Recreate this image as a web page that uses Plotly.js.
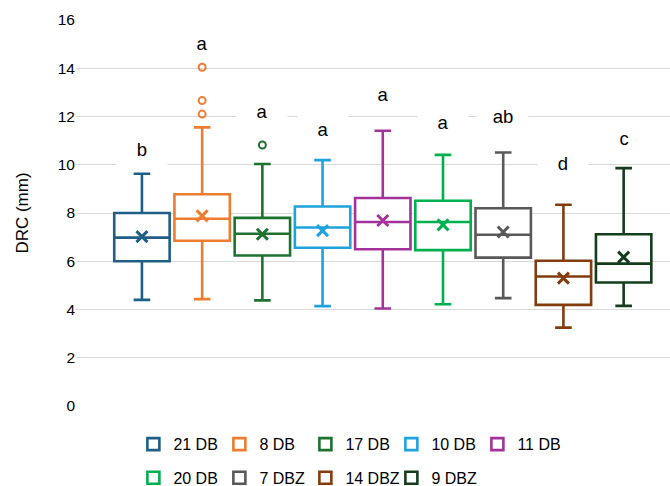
<!DOCTYPE html>
<html>
<head>
<meta charset="utf-8">
<script src="https://cdn.plot.ly/plotly-3.0.1.min.js"></script>
<style>html,body{margin:0;padding:0;background:#fff;}#chart{width:670px;height:486px;}</style>
</head>
<body>
<div id="chart"></div>
<script>
// Data
const groups = ["21 DB", "8 DB", "17 DB", "10 DB", "11 DB", "20 DB", "7 DBZ", "14 DBZ", "9 DBZ"];
const lowerWhisker = [4.40, 4.43, 4.38, 4.14, 4.04, 4.22, 4.47, 3.25, 4.15];
const q1Values     = [6.00, 6.85, 6.24, 6.56, 6.50, 6.46, 6.15, 4.19, 5.12];
const medianValues = [6.98, 7.76, 7.14, 7.40, 7.63, 7.63, 7.10, 5.37, 5.90];
const q3Values     = [8.00, 8.78, 7.80, 8.27, 8.62, 8.51, 8.20, 6.02, 7.12];
const upperWhisker = [9.63, 11.55, 10.03, 10.19, 11.41, 10.41, 10.51, 8.34, 9.86];
const meanValues   = [7.02, 7.88, 7.12, 7.27, 7.69, 7.51, 7.21, 5.30, 6.17];
const outliers     = [[], [14.04, 12.66, 12.10], [10.82], [], [], [], [], [], []];
const letters      = ["b", "a", "a", "a", "a", "a", "ab", "d", "c"];
const letterY      = [10.66, 15.06, 12.23, 11.50, 12.95, 11.78, 12.03, 10.08, 11.12];
const yTicks       = [0, 2, 4, 6, 8, 10, 12, 14, 16];

const colors = ["#1f5f86", "#ed7d31", "#1e7330", "#1ea3dc", "#a3339b", "#00b050", "#595959", "#843c0c", "#143d1c"];

const traces = [];
groups.forEach((g, i) => {
  traces.push({
    type: "box",
    name: g,
    x: [i],
    q1: [q1Values[i]],
    median: [medianValues[i]],
    q3: [q3Values[i]],
    lowerfence: [lowerWhisker[i]],
    upperfence: [upperWhisker[i]],
    width: 0.92,
    whiskerwidth: 0.3,
    line: {color: colors[i], width: 2.6},
    fillcolor: "#ffffff",
    boxpoints: false,
    hoverinfo: "skip",
    legend: i < 5 ? "legend" : "legend2"
  });
});
groups.forEach((g, i) => {
  traces.push({
    type: "scatter", mode: "markers", x: [i], y: [meanValues[i]],
    marker: {symbol: "x-thin", size: 11, line: {color: colors[i], width: 3}},
    showlegend: false, hoverinfo: "skip"
  });
  if (outliers[i].length) {
    traces.push({
      type: "scatter", mode: "markers",
      x: outliers[i].map(() => i), y: outliers[i],
      marker: {symbol: "circle-open", size: 7, color: colors[i], line: {color: colors[i], width: 2}},
      showlegend: false, hoverinfo: "skip"
    });
  }
});

const annotations = letters.map((t, i) => ({
  x: i, y: letterY[i], xref: "x", yref: "y", text: t, showarrow: false,
  font: {family: "Liberation Sans, Arial, sans-serif", size: 18.5, color: "#000"},
  bgcolor: "#ffffff", width: 48, height: 32, xanchor: "center", yanchor: "middle"
}));

const legendCommon = {
  orientation: "h", xref: "paper", yref: "paper", xanchor: "left", yanchor: "top",
  entrywidth: 41, entrywidthmode: "pixels",
  font: {family: "Liberation Sans, Arial, sans-serif", size: 16, color: "#000"},
  bgcolor: "rgba(0,0,0,0)", itemclick: false, itemdoubleclick: false
};

const layout = {
  width: 670, height: 486,
  margin: {l: 76, r: 0, t: 20, b: 80, autoexpand: false},
  paper_bgcolor: "#ffffff", plot_bgcolor: "#ffffff",
  showlegend: true,
  boxmode: "overlay",
  xaxis: {range: [-1.095, 8.77], showticklabels: false, showgrid: false, zeroline: false, ticks: "", fixedrange: true},
  yaxis: {
    range: [0, 16], tickvals: yTicks, ticktext: yTicks.map(String),
    showgrid: true, gridcolor: "#d9d9d9", gridwidth: 1, zeroline: false,
    ticks: "", ticklen: 0, tickfont: {family: "Liberation Sans, Arial, sans-serif", size: 15.5, color: "#000"},
    title: {text: "DRC (mm)", font: {family: "Liberation Sans, Arial, sans-serif", size: 17, color: "#000"}, standoff: 24}
  },
  legend: Object.assign({}, legendCommon, {x: 0.0966, y: -0.055}),
  legend2: Object.assign({}, legendCommon, {x: 0.0966, y: -0.142}),
  annotations: annotations
};

Plotly.newPlot("chart", traces, layout, {displayModeBar: false, staticPlot: true});
</script>
</body>
</html>
